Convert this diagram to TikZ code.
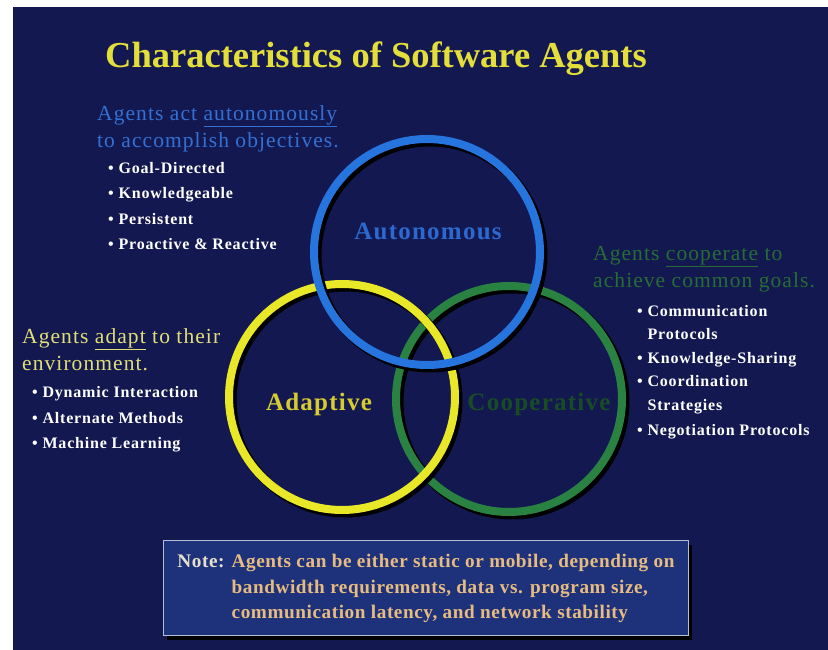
\documentclass[tikz,border=0pt]{standalone}
\usepackage{fontspec}
\setmainfont{Liberation Serif}
\usepackage{xcolor}
\usepackage{tikz}
\usetikzlibrary{positioning,shadows}

\definecolor{slidebg}{RGB}{19,25,80}
\definecolor{titleyellow}{RGB}{228,222,58}
\definecolor{ringblue}{RGB}{38,116,222}
\definecolor{ringyellow}{RGB}{232,232,40}
\definecolor{ringgreen}{RGB}{42,130,66}
\definecolor{leadblue}{RGB}{52,112,212}
\definecolor{leadyellow}{RGB}{226,222,118}
\definecolor{leadgreen}{RGB}{38,108,52}
\definecolor{labelblue}{RGB}{44,104,206}
\definecolor{labelyellow}{RGB}{214,204,48}
\definecolor{labelgreen}{RGB}{24,76,36}
\definecolor{notebg}{RGB}{30,50,124}
\definecolor{noteline}{RGB}{180,190,210}
\definecolor{notehead}{RGB}{230,224,204}
\definecolor{notetext}{RGB}{232,188,128}

\begin{document}
\begin{tikzpicture}[x=1pt, y=-1pt, node distance=9pt,
  ring/.style={circle, line width=8pt, minimum size=226pt, inner sep=0pt},
  ringshade/.style={black, line width=9pt},
  lead/.style={anchor=north west, align=left, inner sep=0pt, font=\fontsize{21.5}{27}\selectfont\addfontfeature{LetterSpace=5}},
  item/.style={anchor=west, inner sep=0pt, text=white, text height=12pt, text depth=4pt, font=\bfseries\fontsize{16}{18}\selectfont\addfontfeature{LetterSpace=5}},
  ringlabel/.style={anchor=base, inner sep=0pt, font=\bfseries\fontsize{25}{28}\selectfont\addfontfeature{LetterSpace=5}}]
\useasboundingbox (0,0) rectangle (828,650);
\fill[white] (0,0) rectangle (828,650);
\fill[slidebg] (13,7) rectangle (828,650);

% title
\node[anchor=base west, inner sep=0pt, text=titleyellow, font=\bfseries\fontsize{36.5}{40}\selectfont] (title) at (105,68) {Characteristics of Software Agents};

% rings
\coordinate (cgreen) at (509,399);
\coordinate (cyellow) at (342,397);
\coordinate (cblue) at (427,252);
\draw[ringshade] ([shift={(3,3)}]cgreen) circle[radius=113];
\node[ring, draw=ringgreen] (cooperative) at (cgreen) {};
\draw[ringshade] ([shift={(3,3)}]cyellow) circle[radius=113];
\node[ring, draw=ringyellow] (adaptive) at (cyellow) {};
\draw[ringshade] ([shift={(3,3)}]cblue) circle[radius=113];
\node[ring, draw=ringblue] (autonomous) at (cblue) {};

\node[ringlabel, text=labelblue] (autonomouslabel) at (428,240) {Autonomous};
\node[ringlabel, text=labelyellow] (adaptivelabel) at (319,410) {Adaptive};
\node[ringlabel, text=labelgreen] (cooperativelabel) at (539,410) {Cooperative};

% autonomous
\node[lead, text=leadblue] (autonomouslead) at (97,101) {\strut Agents act \underline{autonomously}\\to accomplish objectives.\strut};
\node[item, below right=6pt and 11pt of autonomouslead.south west] (goal) {• Goal-Directed};
\node[item, below right=9pt and 0pt of goal.south west] (knowledge) {• Knowledgeable};
\node[item, below right=9pt and 0pt of knowledge.south west] (persistent) {• Persistent};
\node[item, below right=9pt and 0pt of persistent.south west] (proactive) {• Proactive \& Reactive};

% adaptive
\node[lead, text=leadyellow] (adaptivelead) at (22,324) {\strut Agents \underline{adapt} to their\\environment.\strut};
\node[item, below right=7pt and 10pt of adaptivelead.south west] (dynamic) {• Dynamic Interaction};
\node[item, below right=9pt and 0pt of dynamic.south west] (alternate) {• Alternate Methods};
\node[item, below right=9pt and 0pt of alternate.south west] (learning) {• Machine Learning};

% cooperative
\node[lead, text=leadgreen] (cooperativelead) at (593,241) {\strut Agents \underline{cooperate} to\\achieve common goals.\strut};
\node[item, below right=9pt and 44pt of cooperativelead.south west] (communication) {• Communication};
\node[item, below right=6pt and 0pt of communication.south west] (protocols) {\phantom{• }Protocols};
\node[item, below right=8pt and 0pt of protocols.south west] (sharing) {• Knowledge-Sharing};
\node[item, below right=7pt and 0pt of sharing.south west] (coordination) {• Coordination};
\node[item, below right=7pt and 0pt of coordination.south west] (strategies) {\phantom{• }Strategies};
\node[item, below right=9pt and 0pt of strategies.south west] (negotiation) {• Negotiation Protocols};

% note
\node[draw=noteline, line width=1pt, fill=notebg, minimum width=525pt, minimum height=95pt, inner sep=0pt,
  drop shadow={shadow xshift=3pt, shadow yshift=-4pt, opacity=1, fill=black},
  font=\bfseries\fontsize{19.2}{25.5}\selectfont\addfontfeature{LetterSpace=3}] (note) at (426,588)
  {\begin{tabular}{@{}l@{ }l@{}}
   \textcolor{notehead}{Note:} & \textcolor{notetext}{Agents can be either static or mobile, depending on}\\
   & \textcolor{notetext}{bandwidth requirements, data vs. program size,}\\
   & \textcolor{notetext}{communication latency, and network stability}
   \end{tabular}};
\end{tikzpicture}
\end{document}
